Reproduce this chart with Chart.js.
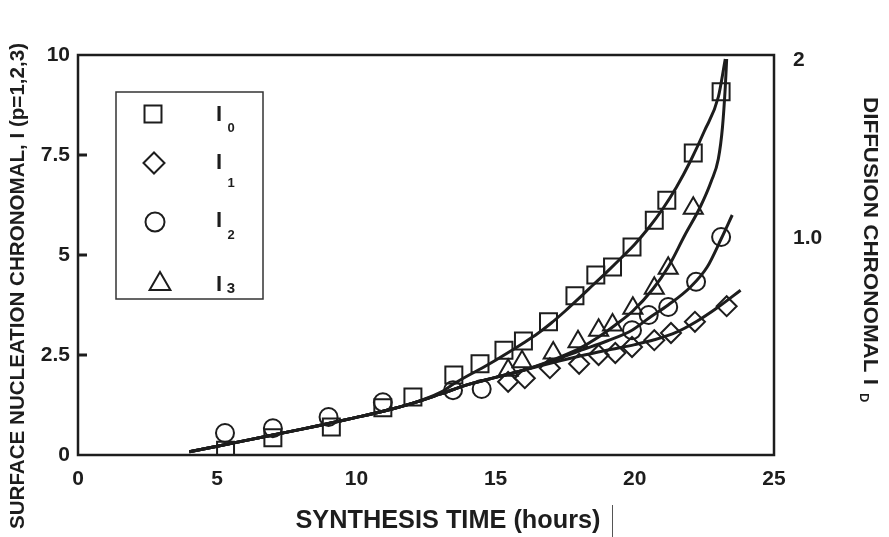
<!DOCTYPE html>
<html><head><meta charset="utf-8">
<script src="https://cdn.jsdelivr.net/npm/chart.js@4.4.1/dist/chart.umd.min.js"></script>
<style>html,body{margin:0;padding:0;background:#fff;}#wrap{width:889px;height:537px;position:relative;}</style>
</head><body><div id="wrap"><canvas id="c" width="889" height="537"></canvas></div>
<script>
// ---------- data ----------
const xTicks = [0, 5, 10, 15, 20, 25];
const yTicks = [0, 2.5, 5, 7.5, 10];
const y2Ticks = [1, 2];
const y2Labels = ['1.0', '2'];
const xTitle = 'SYNTHESIS TIME (hours)';
const yTitle = 'SURFACE NUCLEATION CHRONOMAL, I (p=1,2,3)';
const y2Title = 'DIFFUSION CHRONOMAL I';
const y2TitleSub = 'D';
const legendSubs = ['0', '1', '2', '3'];

// measured points [hours, value]
const pointsI0 = [[5.3,0.12],[7.0,0.43],[9.1,0.7],[10.95,1.18],[12.03,1.45],[13.5,2.0],[14.44,2.28],[15.3,2.62],[16.0,2.85],[16.9,3.33],[17.85,3.98],[18.6,4.5],[19.2,4.7],[19.9,5.2],[20.7,5.87],[21.15,6.37],[22.1,7.55],[23.1,9.08]];
const pointsI1 = [[15.45,1.83],[16.05,1.92],[16.95,2.17],[18.0,2.28],[18.7,2.5],[19.3,2.55],[19.9,2.7],[20.7,2.87],[21.3,3.05],[22.16,3.33],[23.3,3.72]];
const pointsI2 = [[5.28,0.55],[7.0,0.67],[9.0,0.95],[10.95,1.32],[13.47,1.62],[14.5,1.65],[19.9,3.12],[20.5,3.5],[21.2,3.7],[22.2,4.33],[23.1,5.45]];
const pointsI3 = [[15.45,2.12],[15.95,2.33],[17.07,2.55],[17.96,2.83],[18.7,3.12],[19.2,3.25],[19.93,3.67],[20.7,4.17],[21.2,4.67],[22.1,6.17]];

// fitted curves: common trunk + branches
const fitTrunk = [[4,0.08],[5,0.22],[6,0.36],[7,0.5],[8,0.64],[9,0.79],[10,0.94],[11,1.1],[12,1.29],[13,1.52],[14,1.76],[15,1.94],[16,2.12]];
const fitBranchI0 = [[13,1.56],[13.5,1.78],[14,1.98],[14.5,2.17],[15,2.37],[15.5,2.58],[16,2.8],[16.5,3.03],[17,3.3],[17.5,3.6],[18,3.92],[18.5,4.25],[19,4.58],[19.5,4.92],[20,5.27],[20.5,5.68],[21,6.15],[21.5,6.7],[22,7.35],[22.5,8.1],[23,8.95],[23.25,9.9]];
const fitBranchI1 = [[17,2.3],[18,2.47],[19,2.62],[20,2.76],[20.7,2.88],[21.5,3.07],[22.2,3.33],[23,3.7],[23.8,4.12]];
const fitBranchI2 = [[17,2.34],[18,2.6],[19,2.85],[19.9,3.12],[20.5,3.42],[21.2,3.75],[22,4.2],[22.6,4.7],[23.1,5.4],[23.5,6.0]];
const fitBranchI3 = [[17,2.36],[17.5,2.5],[18,2.66],[18.7,2.95],[19.3,3.25],[19.93,3.6],[20.65,4.15],[21.2,4.7],[21.8,5.5],[22.35,6.2],[22.75,6.85],[23.0,7.4],[23.15,8.2],[23.25,9.2],[23.3,9.9]];

// ---------- build ----------
const INK = '#1d1d1d';
const FONT = '"Liberation Sans", Arial, sans-serif';
const toXY = arr => arr.map(([x, y]) => ({x, y}));
const curve = (branch) => {
  const start = branch[0][0];
  return toXY(fitTrunk.filter(p => p[0] < start).concat(branch));
};
const curveDs = (data) => ({data, showLine: true, pointRadius: 0, borderColor: INK, borderWidth: 3,
  cubicInterpolationMode: 'monotone', fill: false, pointHoverRadius: 0});
const styles = [
  {pts: pointsI0, style: 'rect', r: 12},
  {pts: pointsI1, style: 'rectRot', r: 10},
  {pts: pointsI2, style: 'circle', r: 9},
  {pts: pointsI3, style: 'triangle', r: 11}
];
const markerDs = styles.map(s => ({data: toXY(s.pts), showLine: false, pointStyle: s.style, pointRadius: s.r,
  borderColor: INK, borderWidth: 2, backgroundColor: 'rgba(255,255,255,0)', pointHoverRadius: s.r}));

const datasets = [...markerDs,
  curveDs(curve(fitBranchI0)), curveDs(curve(fitBranchI1)), curveDs(curve(fitBranchI2)), curveDs(curve(fitBranchI3))];

function fitText(ctx, text, cx, cy, rot, font, width, align) {
  ctx.save();
  ctx.translate(cx, cy); ctx.rotate(rot); ctx.font = font;
  const w = ctx.measureText(text).width;
  ctx.scale(width / w, 1);
  ctx.textAlign = align || 'center'; ctx.textBaseline = 'middle';
  ctx.fillText(text, 0, 0);
  ctx.restore();
}

const decor = {
  id: 'decor',
  afterDraw(chart) {
    const {ctx, chartArea: a, scales} = chart;
    ctx.save();
    ctx.fillStyle = INK; ctx.strokeStyle = INK;
    // frame
    ctx.lineWidth = 2.5;
    ctx.strokeRect(a.left, a.top, a.right - a.left, a.bottom - a.top);
    // inward ticks on left axis
    ctx.lineWidth = 3;
    [2.5, 5, 7.5].forEach(v => {
      const y = scales.y.getPixelForValue(v);
      ctx.beginPath(); ctx.moveTo(a.left, y); ctx.lineTo(a.left + 9, y); ctx.stroke();
    });
    // legend box
    ctx.lineWidth = 1.5; ctx.strokeStyle = '#333';
    ctx.strokeRect(116, 92, 147, 207);
    const legendRows = [
      {style: 'rect', r: 12, mx: 153, my: 114, iy: 115, sx: 231, sy: 128, sf: 13},
      {style: 'rectRot', r: 10.5, mx: 154, my: 163, iy: 163, sx: 231, sy: 183, sf: 13},
      {style: 'circle', r: 9.5, mx: 155, my: 222, iy: 221, sx: 231, sy: 235, sf: 13},
      {style: 'triangle', r: 12, mx: 160, my: 284, iy: 285, sx: 231, sy: 289, sf: 15}
    ];
    legendRows.forEach((row, i) => {
      ctx.save();
      ctx.strokeStyle = INK; ctx.fillStyle = 'rgba(255,255,255,0)'; ctx.lineWidth = 2;
      Chart.helpers.drawPoint(ctx, {pointStyle: row.style, radius: row.r, borderWidth: 2, rotation: 0}, row.mx, row.my);
      ctx.restore();
      ctx.fillStyle = INK;
      ctx.font = 'bold 22px ' + FONT;
      ctx.textAlign = 'left'; ctx.textBaseline = 'middle';
      ctx.fillText('I', 216, row.iy);
      ctx.font = 'bold ' + row.sf + 'px ' + FONT;
      ctx.textAlign = 'center';
      ctx.fillText(legendSubs[i], row.sx, row.sy);
    });
    // axis titles
    ctx.fillStyle = INK;
    fitText(ctx, xTitle, 448, 521, 0, 'bold 26px ' + FONT, 305);
    fitText(ctx, yTitle, 18, 286, -Math.PI / 2, 'bold 21px ' + FONT, 486);
    fitText(ctx, y2Title, 870, 97, Math.PI / 2, 'bold 20px ' + FONT, 288, 'left');
    ctx.save();
    ctx.translate(864, 393); ctx.rotate(Math.PI / 2);
    ctx.font = 'bold 13px ' + FONT;
    ctx.textAlign = 'left'; ctx.textBaseline = 'middle';
    ctx.fillText(y2TitleSub, 0, 0);
    ctx.restore();
    // thin scan artifact line beside the x title
    ctx.strokeStyle = '#555'; ctx.lineWidth = 1;
    ctx.beginPath(); ctx.moveTo(612.5, 505); ctx.lineTo(612.5, 537); ctx.stroke();
    ctx.restore();
  }
};

const tickFont = {family: FONT, size: 21, weight: 'bold'};

new Chart(document.getElementById('c'), {
  type: 'scatter',
  data: {datasets},
  options: {
    responsive: false, animation: false, devicePixelRatio: 1,
    layout: {padding: {left: 0, top: 55, right: 0, bottom: 0}},
    plugins: {legend: {display: false}, tooltip: {enabled: false}},
    scales: {
      x: {
        type: 'linear', position: 'bottom', min: 0, max: 25,
        afterFit: s => { s.height = 82; },
        afterBuildTicks: s => { s.ticks = xTicks.map(v => ({value: v})); },
        grid: {display: false, drawTicks: false}, border: {display: false},
        ticks: {color: INK, font: tickFont, padding: 12, callback: v => String(v), maxRotation: 0}
      },
      y: {
        type: 'linear', position: 'left', min: 0, max: 10,
        afterFit: s => { s.width = 78; },
        afterBuildTicks: s => { s.ticks = yTicks.map(v => ({value: v})); },
        grid: {display: false, drawTicks: false}, border: {display: false},
        ticks: {color: INK, font: tickFont, padding: 8, callback: v => String(v)}
      },
      y2: {
        type: 'linear', position: 'right', min: -0.22, max: 2.03,
        afterFit: s => { s.width = 115; },
        afterBuildTicks: s => { s.ticks = y2Ticks.map(v => ({value: v})); },
        grid: {display: false, drawTicks: false}, border: {display: false},
        ticks: {color: INK, font: tickFont, padding: 19, callback: v => y2Labels[y2Ticks.indexOf(v)]}
      }
    }
  },
  plugins: [decor]
});
</script>
</body></html>
